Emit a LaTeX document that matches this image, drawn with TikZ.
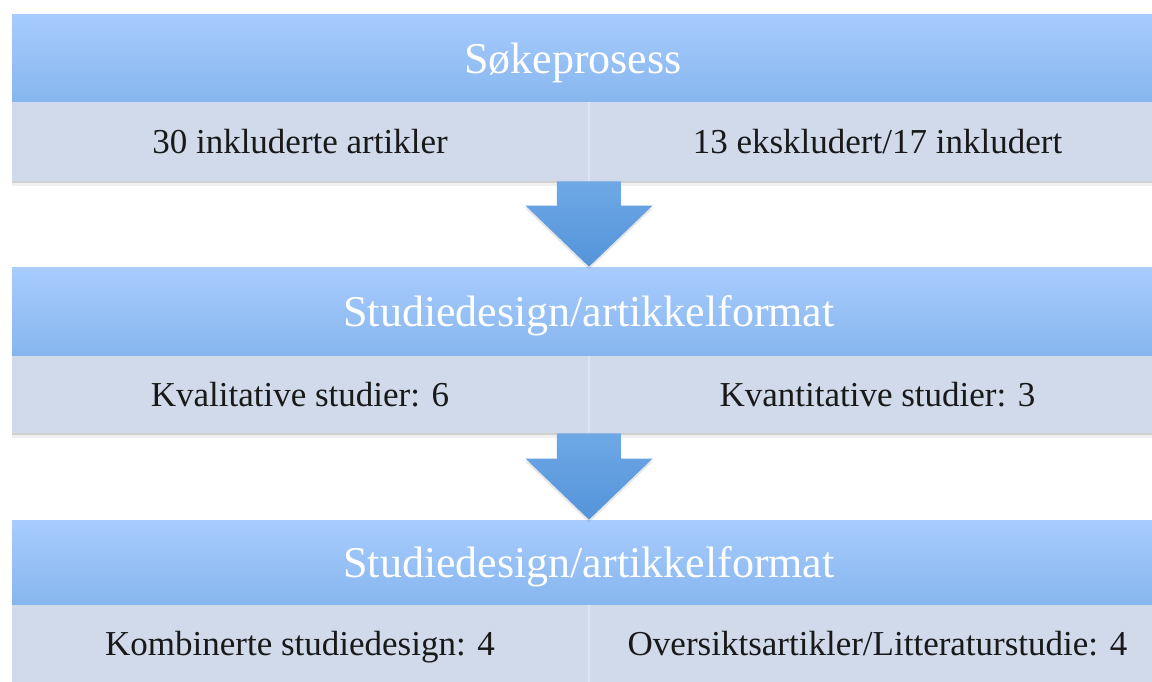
\documentclass[tikz,border=0pt]{standalone}
\usepackage{fontspec}
\setmainfont{Liberation Serif}
\usetikzlibrary{calc,shadows}
\definecolor{headtop}{RGB}{168,204,254}
\definecolor{headbot}{RGB}{134,182,238}
\definecolor{subfill}{RGB}{208,218,235}
\definecolor{subline}{RGB}{222,228,241}
\definecolor{arrowtop}{RGB}{110,168,230}
\definecolor{arrowbot}{RGB}{84,148,218}
\begin{document}
\begin{tikzpicture}[x=0.5pt,y=-0.5pt,
    headbox/.style={rectangle, inner sep=0pt, minimum width=577pt,
        top color=headtop, bottom color=headbot, text=white,
        font=\fontsize{22}{26}\selectfont, text height=15pt, text depth=0pt},
    subbox/.style={rectangle, inner sep=0pt, minimum width=288.5pt,
        fill=subfill, text=black!90,
        font=\fontsize{17.5}{21}\selectfont, text height=11.8pt, text depth=0pt,
        drop shadow={shadow xshift=0pt, shadow yshift=-1.2pt, opacity=.28},
        drop shadow={shadow xshift=0pt, shadow yshift=-2.6pt, opacity=.12}},
    divider/.style={draw=subline, line width=1pt},
    blockarrow/.style={top color=arrowtop, bottom color=arrowbot,
        drop shadow={shadow xshift=0pt, shadow yshift=-1.5pt, opacity=.2}}]
    \useasboundingbox (0,0) rectangle (1152,681);
    \clip (0,0) rectangle (1152,681);

    % First block
    \node[headbox, minimum height=44pt] (h1) at (589,58) {Søkeprosess\kern16pt};
    \node[subbox, minimum height=39.5pt] (s1a) at (300,141.5) {30 inkluderte artikler};
    \node[subbox, minimum height=39.5pt] (s1b) at (877.5,141.5) {13 ekskludert/17 inkludert};
    \draw[divider] (s1a.north east) -- (s1a.south east);

    % Second block
    \node[headbox, minimum height=44.5pt] (h2) at (589,311.5) {Studiedesign/artikkelformat};
    \node[subbox, minimum height=38.5pt] (s2a) at (300,394.5) {Kvalitative studier: 6};
    \node[subbox, minimum height=38.5pt] (s2b) at (877.5,394.5) {Kvantitative studier: 3};
    \draw[divider] (s2a.north east) -- (s2a.south east);

    % Third block
    \node[headbox, minimum height=42.5pt] (h3) at (589,562.5) {Studiedesign/artikkelformat};
    \node[subbox, minimum height=39pt] (s3a) at (300,644) {Kombinerte studiedesign: 4};
    \node[subbox, minimum height=39pt] (s3b) at (877.5,644) {Oversiktsartikler/Litteraturstudie: 4};
    \draw[divider] (s3a.north east) -- (s3a.south east);

    % The arrows
    \shade[blockarrow] ($(s1a.south east)+(-32,0)$) -- ++(64,0) -- ($(h2.north)+(32,-61)$)
        -- ++(31.5,0) -- (h2.north) -- ++(-63.5,-61) -- ++(31.5,0) -- cycle;
    \shade[blockarrow] ($(s2a.south east)+(-32,0)$) -- ++(64,0) -- ($(h3.north)+(32,-61)$)
        -- ++(31.5,0) -- (h3.north) -- ++(-63.5,-61) -- ++(31.5,0) -- cycle;
\end{tikzpicture}
\end{document}
